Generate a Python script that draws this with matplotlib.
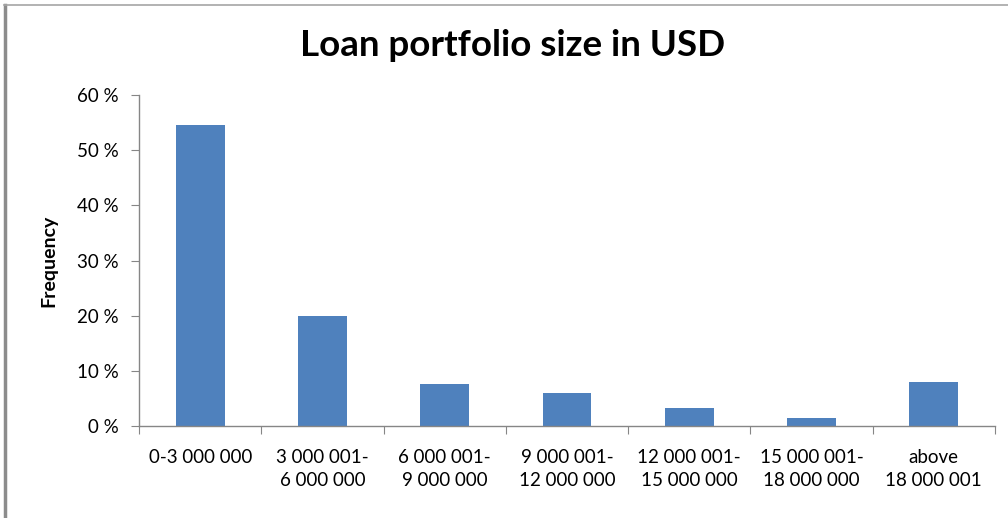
import matplotlib
matplotlib.use("Agg")
import matplotlib.pyplot as plt
import numpy as np
from matplotlib.lines import Line2D
from matplotlib.ticker import FuncFormatter

# loan portfolio size bands and share of institutions in each
categories = ["0-3 000 000", "3 000 001-\n6 000 000", "6 000 001-\n9 000 000",
              "9 000 001-\n12 000 000", "12 000 001-\n15 000 000",
              "15 000 001-\n18 000 000", "above\n18 000 001"]
frequency = [54.5, 20.0, 7.7, 5.9, 3.2, 1.5, 7.9]
yticks = [0, 10, 20, 30, 40, 50, 60]

plt.rcParams['font.family'] = ['Lato', 'DejaVu Sans']

fig = plt.figure(figsize=(10.08, 5.18), dpi=100)
ax = fig.add_axes([0.138, 0.1776, 0.849, 0.639])

x = np.arange(len(categories))
ax.bar(x, frequency, width=0.4, color="#4F81BD", zorder=2)

ax.set_xlim(-0.5, len(categories) - 0.5)
ax.set_ylim(0, 60)
ax.set_yticks(yticks)
ax.yaxis.set_major_formatter(FuncFormatter(lambda v, p: "%d %%" % v))
ax.tick_params(axis="y", labelsize=13.5, length=6, color="#868686", pad=9)

# category labels sit between boundary ticks
ax.set_xticks(np.arange(len(categories) + 1) - 0.5)
ax.set_xticklabels([])
ax.tick_params(axis="x", length=6, color="#868686")
for i, lab in enumerate(categories):
    ax.text(i, -4.1, lab, ha="center", va="top", fontsize=13.5,
            linespacing=1.45)

for side in ["top", "right"]:
    ax.spines[side].set_visible(False)
for side in ["left", "bottom"]:
    ax.spines[side].set_color("#868686")
    ax.spines[side].set_linewidth(1.0)

ax.set_ylabel("Frequency", fontsize=14, fontweight="bold", labelpad=14)

fig.text(0.508, 0.913, "Loan portfolio size in USD", ha="center", va="center",
         fontsize=26.5, fontweight="bold")

# outer chart frame
fig.add_artist(Line2D([0.005, 0.005], [0.0, 0.99], color="#8c8c8c", lw=2.5,
                      transform=fig.transFigure))
fig.add_artist(Line2D([0.004, 1.0], [0.99, 0.99], color="#a6a6a6", lw=1.2,
                      transform=fig.transFigure))

fig.savefig("out.png", dpi=100)
